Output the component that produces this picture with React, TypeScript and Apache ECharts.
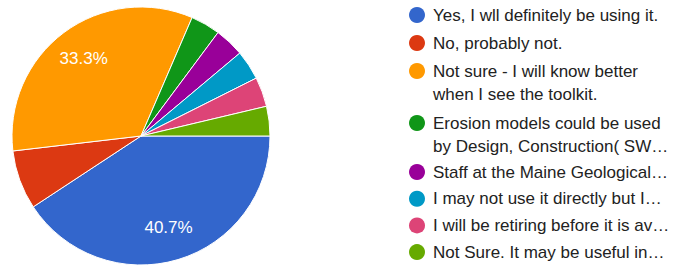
import React, { useEffect, useRef } from "react";
import * as echarts from "echarts";

const categories = [
  "Yes, I wll definitely be using it.",
  "No, probably not.",
  "Not sure - I will know better when I see the toolkit.",
  "Erosion models could be used by Design, Construction( SW…",
  "Staff at the Maine Geological…",
  "I may not use it directly but I…",
  "I will be retiring before it is av…",
  "Not Sure. It may be useful in…",
];
const values = [11, 2, 9, 1, 1, 1, 1, 1];
const legendLines = [
  "Yes, I wll definitely be using it.",
  "No, probably not.",
  "\u00a0\nNot sure - I will know better\nwhen I see the toolkit.",
  "\u00a0\nErosion models could be used\nby Design, Construction( SW…",
  "Staff at the Maine Geological…",
  "I may not use it directly but I…",
  "I will be retiring before it is av…",
  "Not Sure. It may be useful in…",
];
const colors = ["#3366cc", "#dc3912", "#ff9900", "#109618", "#990099", "#0099c6", "#dd4477", "#66aa00"];

const FONT = "Arial, 'Liberation Sans', sans-serif";

export default function App() {
  const ref = useRef<HTMLDivElement>(null);
  useEffect(() => {
    if (!ref.current) return;
    const chart = echarts.init(ref.current, null, { renderer: "svg" });
    const data = categories.map((name, i) => ({ name, value: values[i] }));
    const total = values.reduce((a, b) => a + b, 0);
    const fmt = (name: string) => legendLines[categories.indexOf(name)];
    const textStyle = {
      fontFamily: FONT,
      fontSize: 17,
      color: "#222222",
      lineHeight: 23,
      padding: [0, 0, 0, 3],
    };
    const baseLegend = {
      orient: "vertical",
      left: 409,
      padding: 0,
      icon: "circle",
      itemWidth: 16,
      itemHeight: 16,
      selectedMode: false,
      formatter: fmt,
      itemStyle: { borderWidth: 0 },
      textStyle,
    };
    chart.setOption({
      animation: false,
      color: colors,
      textStyle: { fontFamily: FONT },
      legend: [
        { ...baseLegend, top: 3.5, itemGap: 5, data: categories.slice(0, 2) },
        { ...baseLegend, top: 36.5, itemGap: 5, data: categories.slice(2, 3) },
        { ...baseLegend, top: 88.5, itemGap: 5, data: categories.slice(3, 4) },
        { ...baseLegend, top: 160.5, itemGap: 3.7, data: categories.slice(4) },
      ],
      series: [
        {
          type: "pie",
          center: [141, 136],
          radius: [0, 129],
          startAngle: 0,
          clockwise: true,
          avoidLabelOverlap: false,
          itemStyle: { borderColor: "#ffffff", borderWidth: 1 },
          label: { show: false },
          labelLine: { show: false },
          emphasis: { disabled: true },
          data,
        },
        {
          type: "pie",
          center: [141, 136],
          radius: [57, 129],
          startAngle: 0,
          clockwise: true,
          silent: true,
          avoidLabelOverlap: false,
          itemStyle: { color: "rgba(0,0,0,0)", borderWidth: 0 },
          label: {
            show: true,
            position: "inside",
            color: "#ffffff",
            fontFamily: FONT,
            fontSize: 17,
            formatter: (p: any) => {
              const pct = (p.value / total) * 100;
              return pct >= 10 ? `${pct.toFixed(1)}%` : "";
            },
          },
          labelLine: { show: false },
          emphasis: { disabled: true },
          data,
        },
      ],
    });
    return () => chart.dispose();
  }, []);
  return (
    <div
      ref={ref}
      style={{ position: "absolute", left: 0, top: 0, width: 673, height: 267, background: "#ffffff" }}
    />
  );
}
